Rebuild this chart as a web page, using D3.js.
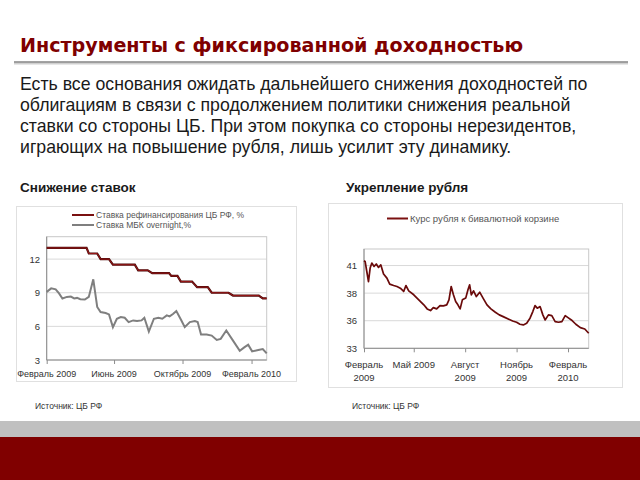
<!DOCTYPE html>
<html>
<head>
<meta charset="utf-8">
<script src="https://cdn.jsdelivr.net/npm/d3@7"></script>
<style>
body { margin: 0; background: #fff; }
svg { display: block; font-family: "Liberation Sans", Arial, sans-serif; }
</style>
</head>
<body>
<div id="slide"></div>
<script>
// Slide text
const titleText = "Инструменты с фиксированной доходностью";
const bodyLines = [
    "Есть все основания ожидать дальнейшего снижения доходностей по",
    "облигациям в связи с продолжением политики снижения реальной",
    "ставки со стороны ЦБ. При этом покупка со стороны нерезидентов,",
    "играющих на повышение рубля, лишь усилит эту динамику."
];
const chartTitles = ["Снижение ставок", "Укрепление рубля"];
const sourceText = "Источник: ЦБ РФ";

// Chart 1: rates, %
const ratesLegend = ["Ставка рефинансирования ЦБ РФ, %", "Ставка МБК overnight,%"];
const refiDates = ["2009-02-01","2009-04-13","2009-04-17","2009-05-02","2009-05-08","2009-05-23","2009-05-30",
    "2009-07-08","2009-07-14","2009-07-31","2009-08-08","2009-09-07","2009-09-11","2009-09-22","2009-09-28",
    "2009-10-18","2009-10-27","2009-11-15","2009-11-22","2009-12-22","2009-12-30","2010-02-14","2010-02-21","2010-02-28"];
const refiValues = [13,13,12.5,12.5,12,12,11.5,11.5,11,11,10.75,10.75,10.5,10.5,10,10,9.5,9.5,9,9,8.75,8.75,8.5,8.5];
const mbkDates = ["2009-02-01","2009-02-09","2009-02-17","2009-02-23","2009-03-01","2009-03-09","2009-03-16",
    "2009-03-22","2009-03-27","2009-04-02","2009-04-10","2009-04-17","2009-04-25","2009-05-02","2009-05-08",
    "2009-05-17","2009-05-23","2009-05-30","2009-06-06","2009-06-13","2009-06-20","2009-06-27","2009-07-05",
    "2009-07-12","2009-07-20","2009-07-25","2009-08-02","2009-08-11","2009-08-19","2009-08-26","2009-09-03",
    "2009-09-08","2009-09-14","2009-09-20","2009-09-29","2009-10-05","2009-10-14","2009-10-23","2009-10-28",
    "2009-11-03","2009-11-13","2009-11-22","2009-12-01","2009-12-08","2009-12-18","2009-12-30","2010-01-11",
    "2010-01-19","2010-01-26","2010-02-02","2010-02-13","2010-02-21","2010-02-28"];
const mbkValues = [9.08,9.39,9.3,8.94,8.49,8.63,8.66,8.49,8.54,8.42,8.39,8.63,10.2,7.73,7.28,7.19,7.07,5.93,
    6.68,6.83,6.77,6.38,6.53,6.47,6.53,6.77,5.54,6.68,6.77,6.68,6.98,6.89,7.1,7.37,6.53,5.93,6.38,6.47,6.38,
    5.27,5.27,5.18,4.79,4.88,5.63,4.73,3.83,4.13,4.37,3.77,3.89,3.98,3.59];
const ratesTickY = [3, 6, 9, 12];
const ratesTickX = ["2009-02-01", "2009-06-01", "2009-10-01", "2010-02-01"];
const ratesTickXLabels = ["Февраль 2009", "Июнь 2009", "Октябрь 2009", "Февраль 2010"];

// Chart 2: ruble vs. dual-currency basket
const rubLegend = "Курс рубля к бивалютной корзине";
const rubDates = ["2009-02-01","2009-02-03","2009-02-06","2009-02-09","2009-02-12","2009-02-15","2009-02-19",
    "2009-02-23","2009-02-27","2009-03-03","2009-03-08","2009-03-14","2009-03-19","2009-03-26","2009-04-01",
    "2009-04-07","2009-04-13","2009-04-17","2009-04-22","2009-05-01","2009-05-10","2009-05-19","2009-05-25",
    "2009-05-31","2009-06-05","2009-06-11","2009-06-17","2009-06-23","2009-06-29","2009-07-03","2009-07-07",
    "2009-07-11","2009-07-15","2009-07-19","2009-07-23","2009-07-27","2009-08-02","2009-08-06","2009-08-09",
    "2009-08-12","2009-08-16","2009-08-21","2009-08-27","2009-09-02","2009-09-09","2009-09-16","2009-09-24",
    "2009-10-01","2009-10-08","2009-10-17","2009-10-25","2009-11-01","2009-11-07","2009-11-13","2009-11-19",
    "2009-11-25","2009-11-30","2009-12-04","2009-12-08","2009-12-13","2009-12-18","2009-12-22","2009-12-28",
    "2010-01-03","2010-01-09","2010-01-15","2010-01-21","2010-01-27","2010-02-01","2010-02-07","2010-02-15",
    "2010-02-23","2010-03-03","2010-03-10"];
const rubValues = [40.94,40.87,39.96,39.05,40.27,40.73,40.42,40.64,40.33,40.57,39.73,39.36,38.82,38.69,38.6,
    38.45,38.15,38.69,38.21,37.85,37.39,36.94,36.57,36.42,36.69,36.57,36.87,36.85,36.94,37.39,38.6,37.85,
    37.24,36.94,36.57,37.39,37.55,38.3,38.75,37.85,38.21,37.69,38.09,37.55,36.94,36.57,36.27,36.03,35.87,
    35.66,35.48,35.36,35.18,35.12,35.27,35.73,36.33,36.87,36.64,36.78,36.03,35.57,36.03,35.96,35.42,35.36,
    35.42,35.96,35.78,35.57,35.18,34.87,34.75,34.36];
const rubTickY = [33, 35.5, 38, 40.5];
const rubTickX = ["2009-02-01", "2009-05-01", "2009-08-01", "2009-11-01", "2010-02-01"];
const rubTickXLabels = [["Февраль", "2009"], ["Май 2009"], ["Август", "2009"], ["Ноябрь", "2009"], ["Февраль", "2010"]];

const parse = d3.timeParse("%Y-%m-%d");
const darkRed = "#7f0000";

const svg = d3.select("#slide").append("svg")
    .attr("width", 640)
    .attr("height", 480);

// Title and rule
svg.append("text")
    .attr("x", 20).attr("y", 52)
    .attr("font-family", "'DejaVu Sans', Verdana, sans-serif")
    .attr("font-weight", "bold")
    .attr("font-size", 20)
    .attr("textLength", 503)
    .attr("lengthAdjust", "spacingAndGlyphs")
    .attr("fill", darkRed)
    .text(titleText);

svg.append("line")
    .attr("x1", 14).attr("x2", 628).attr("y1", 63).attr("y2", 63)
    .attr("stroke", "#d0d0d0").attr("stroke-width", 3);
svg.append("line")
    .attr("x1", 14).attr("x2", 628).attr("y1", 62).attr("y2", 62)
    .attr("stroke", "#8c8c8c").attr("stroke-width", 1.6);

// Body paragraph
svg.selectAll(".body-line")
    .data(bodyLines)
    .enter()
    .append("text")
    .attr("class", "body-line")
    .attr("x", 20)
    .attr("y", (d, i) => 90 + i * 21)
    .attr("font-size", 17.7)
    .attr("fill", "#1a1a1a")
    .text(d => d);

// Chart headings
svg.selectAll(".chart-title")
    .data(chartTitles)
    .enter()
    .append("text")
    .attr("class", "chart-title")
    .attr("x", (d, i) => i === 0 ? 20 : 346)
    .attr("y", 192)
    .attr("font-size", 13.5)
    .attr("font-weight", "bold")
    .attr("fill", "#1a1a1a")
    .text(d => d);

// Chart frames
svg.append("rect").attr("x", 16.5).attr("y", 206.5).attr("width", 280).attr("height", 175)
    .attr("fill", "none").attr("stroke", "#e0e0e0");
svg.append("rect").attr("x", 328.5).attr("y", 203.5).attr("width", 294).attr("height", 184)
    .attr("fill", "none").attr("stroke", "#e0e0e0");

// Draws plot box, gridlines and y labels
function drawFrame(g, x, y, ticks, fmt, labelX) {
    const [x0, x1] = x.range();
    const [y0, y1] = y.range();
    g.selectAll(".grid")
        .data(ticks.slice(1))
        .enter()
        .append("line")
        .attr("x1", x0).attr("x2", x1)
        .attr("y1", d => y(d)).attr("y2", d => y(d))
        .attr("stroke", "#d9d9d9");
    g.append("rect")
        .attr("x", x0).attr("y", y1)
        .attr("width", x1 - x0).attr("height", y0 - y1)
        .attr("fill", "none").attr("stroke", "#c8c8c8");
    g.append("line")
        .attr("x1", x0).attr("x2", x0).attr("y1", y1).attr("y2", y0)
        .attr("stroke", "#8c8c8c");
    g.append("line")
        .attr("x1", x0).attr("x2", x1).attr("y1", y0).attr("y2", y0)
        .attr("stroke", "#8c8c8c");
    g.selectAll(".ylab")
        .data(ticks)
        .enter()
        .append("text")
        .attr("x", labelX)
        .attr("y", d => y(d) + 3.5)
        .attr("text-anchor", "end")
        .attr("font-size", 9.5)
        .attr("fill", "#333")
        .text(fmt);
}

// ---- Chart 1 ----
const g1 = svg.append("g");
const x1 = d3.scaleTime()
    .domain([parse("2009-02-01"), parse("2010-02-28")])
    .range([46.7, 266.7]);
const y1 = d3.scaleLinear()
    .domain([3, 14])
    .range([360, 236.7]);

drawFrame(g1, x1, y1, ratesTickY, d => d, 40);

g1.append("g")
    .attr("transform", "translate(0,360)")
    .call(d3.axisBottom(x1).tickValues(ratesTickX.map(parse)).tickSize(4).tickFormat(""))
    .call(a => a.select(".domain").remove())
    .selectAll("line").attr("stroke", "#8c8c8c");

g1.selectAll(".xlab")
    .data(ratesTickX)
    .enter()
    .append("text")
    .attr("x", d => x1(parse(d)))
    .attr("y", 377)
    .attr("text-anchor", "middle")
    .attr("font-size", 9)
    .attr("fill", "#333")
    .text((d, i) => ratesTickXLabels[i]);

const line1 = d3.line().x(d => x1(d[0])).y(d => y1(d[1]));
g1.append("path")
    .datum(mbkDates.map((d, i) => [parse(d), mbkValues[i]]))
    .attr("d", line1)
    .attr("fill", "none")
    .attr("stroke", "#7f7f7f")
    .attr("stroke-width", 2);
g1.append("path")
    .datum(refiDates.map((d, i) => [parse(d), refiValues[i]]))
    .attr("d", line1)
    .attr("fill", "none")
    .attr("stroke", "#4a0a0a")
    .attr("stroke-width", 2.2);
g1.append("path")
    .datum(refiDates.map((d, i) => [parse(d), refiValues[i]]))
    .attr("d", line1)
    .attr("fill", "none")
    .attr("stroke", "#a01818")
    .attr("stroke-width", 0.9);

// legend
const legendColors1 = ["#7a1010", "#7f7f7f"];
ratesLegend.forEach((t, i) => {
    g1.append("line")
        .attr("x1", 72).attr("x2", 94)
        .attr("y1", 215 + i * 10).attr("y2", 215 + i * 10)
        .attr("stroke", legendColors1[i]).attr("stroke-width", 2);
    g1.append("text")
        .attr("x", 96).attr("y", 218 + i * 10)
        .attr("font-size", 8.5)
        .attr("fill", "#555")
        .text(t);
});

// ---- Chart 2 ----
const g2 = svg.append("g");
const x2 = d3.scaleTime()
    .domain([parse("2009-02-01"), parse("2010-03-10")])
    .range([364, 588.7]);
const y2 = d3.scaleLinear()
    .domain([33, 42])
    .range([348.3, 249]);

drawFrame(g2, x2, y2, rubTickY, d3.format(".0f"), 357);

g2.append("g")
    .attr("transform", "translate(0,348.3)")
    .call(d3.axisBottom(x2).tickValues(rubTickX.map(parse)).tickSize(4).tickFormat(""))
    .call(a => a.select(".domain").remove())
    .selectAll("line").attr("stroke", "#8c8c8c");

rubTickX.forEach((d, i) => {
    rubTickXLabels[i].forEach((t, k) => {
        g2.append("text")
            .attr("x", x2(parse(d)))
            .attr("y", 367.5 + k * 13.5)
            .attr("text-anchor", "middle")
            .attr("font-size", 9.5)
            .attr("fill", "#333")
            .text(t);
    });
});

g2.append("path")
    .datum(rubDates.map((d, i) => [parse(d), rubValues[i]]))
    .attr("d", d3.line().x(d => x2(d[0])).y(d => y2(d[1])))
    .attr("fill", "none")
    .attr("stroke", "#6a0a0a")
    .attr("stroke-width", 1.7)
    .attr("stroke-linejoin", "round");

g2.append("line")
    .attr("x1", 387).attr("x2", 408)
    .attr("y1", 218.5).attr("y2", 218.5)
    .attr("stroke", "#7a1010").attr("stroke-width", 2);
g2.append("text")
    .attr("x", 410).attr("y", 222)
    .attr("font-size", 9.5)
    .attr("fill", "#555")
    .text(rubLegend);

// Sources
svg.selectAll(".source")
    .data([35, 352])
    .enter()
    .append("text")
    .attr("x", d => d)
    .attr("y", 409)
    .attr("font-size", 8.5)
    .attr("fill", "#333")
    .text(sourceText);

// Bottom bands
svg.append("rect").attr("x", 0).attr("y", 421).attr("width", 640).attr("height", 16).attr("fill", "#c0c0c0");
svg.append("rect").attr("x", 0).attr("y", 437).attr("width", 640).attr("height", 43).attr("fill", "#800000");
</script>
</body>
</html>
